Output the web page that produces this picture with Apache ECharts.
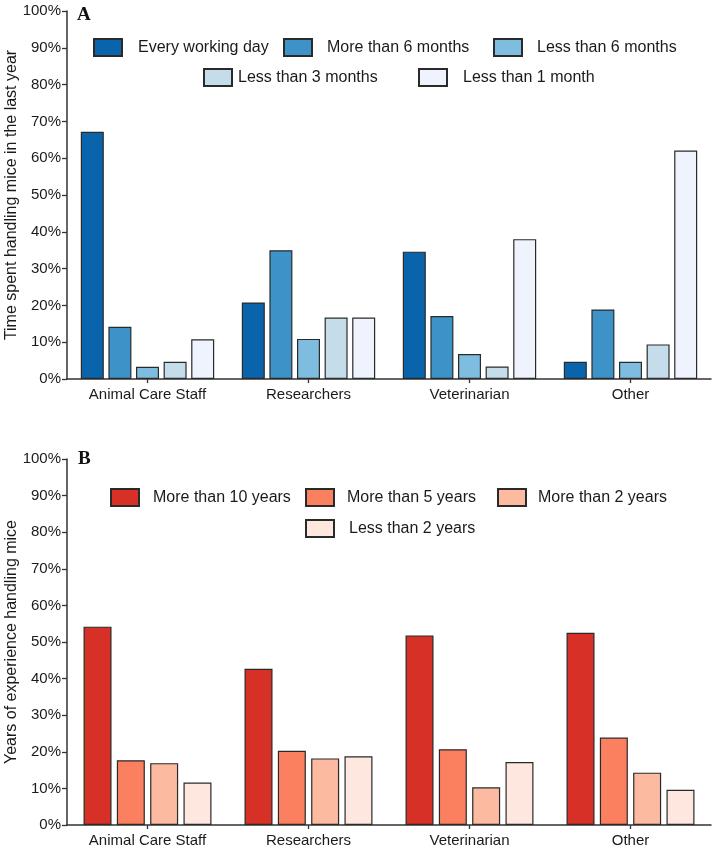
<!DOCTYPE html>
<html>
<head>
<meta charset="utf-8">
<script src="https://cdn.jsdelivr.net/npm/echarts@6/dist/echarts.min.js"></script>
<style>
html,body{margin:0;padding:0;background:#fff;}
#chart{width:713px;height:848px;}
</style>
</head>
<body>
<div id="chart"></div>
<script>
// ---- data ----
var categories = ['Animal Care Staff', 'Researchers', 'Veterinarian', 'Other'];

var freqNames = ['Every working day', 'More than 6 months', 'Less than 6 months', 'Less than 3 months', 'Less than 1 month'];
var everyWorkingDay = [67.2, 20.8, 34.6, 4.7];
var moreThan6Months = [14.2, 35.0, 17.1, 18.9];
var lessThan6Months = [3.3, 10.9, 6.8, 4.7];
var lessThan3Months = [4.7, 16.7, 3.4, 9.4];
var lessThan1Month = [10.8, 16.7, 38.0, 62.1];

var expNames = ['More than 10 years', 'More than 5 years', 'More than 2 years', 'Less than 2 years'];
var moreThan10Years = [54.2, 42.7, 51.8, 52.5];
var moreThan5Years = [17.7, 20.3, 20.7, 23.9];
var moreThan2Years = [16.9, 18.2, 10.3, 14.3];
var lessThan2Years = [11.6, 18.8, 17.2, 9.6];

var yTitleA = 'Time spent handling mice in the last year';
var yTitleB = 'Years of experience handling mice';

// ---- styles ----
var blues = ['#0a64ac', '#3d93c8', '#7ebce0', '#c5dcea', '#eef3fd'];
var reds = ['#d63027', '#fb8060', '#fcbaa0', '#fee7df'];
var FONT = "'Liberation Sans', Arial, Helvetica, sans-serif";
var AXIS = '#333';
var TXT = '#1a1a1a';

var chart = echarts.init(document.getElementById('chart'));

function yAxis(gridIndex, name) {
  return {
    type: 'value', gridIndex: gridIndex, min: 0, max: 100, interval: 10,
    name: name, nameLocation: 'middle', nameGap: 47, nameMoveOverlap: false,
    nameTextStyle: { fontFamily: FONT, fontSize: 16, color: TXT },
    axisLine: { show: true, lineStyle: { color: AXIS, width: 1.5 } },
    axisTick: { show: true, length: 5, lineStyle: { color: AXIS, width: 1.3 } },
    axisLabel: { formatter: '{value}%', fontFamily: FONT, fontSize: 15, color: TXT, margin: 6 },
    splitLine: { show: false }
  };
}
function xAxis(gridIndex) {
  return {
    type: 'category', gridIndex: gridIndex, data: categories,
    axisLine: { show: true, lineStyle: { color: AXIS, width: 1.5 } },
    axisTick: { show: true, alignWithLabel: true, length: 4, lineStyle: { color: AXIS, width: 1.3 } },
    axisLabel: { fontFamily: FONT, fontSize: 15, color: TXT, margin: 8 },
    splitLine: { show: false }
  };
}

var valuesA = [everyWorkingDay, moreThan6Months, lessThan6Months, lessThan3Months, lessThan1Month];
var valuesB = [moreThan10Years, moreThan5Years, moreThan2Years, lessThan2Years];

var series = [];
freqNames.forEach(function (n, i) {
  series.push({
    name: n, type: 'bar', xAxisIndex: 0, yAxisIndex: 0, data: valuesA[i],
    barWidth: 23, barGap: '20%',
    itemStyle: { color: blues[i], borderColor: '#2a2a2a', borderWidth: 1.2 }
  });
});
expNames.forEach(function (n, i) {
  series.push({
    name: n, type: 'bar', xAxisIndex: 1, yAxisIndex: 1, data: valuesB[i],
    barWidth: 28, barGap: '19%',
    itemStyle: { color: reds[i], borderColor: '#2a2a2a', borderWidth: 1.2 }
  });
});

// legend placement: [name, iconLeft, iconTop, textGap]
var legendPlaces = [
  [freqNames[0], 93, 38, 16],
  [freqNames[1], 283, 38, 15],
  [freqNames[2], 493, 38, 15],
  [freqNames[3], 203, 68, 6],
  [freqNames[4], 418, 68, 16],
  [expNames[0], 110, 488, 14],
  [expNames[1], 305, 488, 13],
  [expNames[2], 497, 488, 12],
  [expNames[3], 305, 519, 15]
];
var legends = legendPlaces.map(function (p) {
  return {
    data: [p[0]], left: p[1], top: p[2], padding: 0,
    itemWidth: 28, itemHeight: 17, icon: 'rect', selectedMode: false,
    textStyle: { fontFamily: FONT, fontSize: 16, color: TXT, padding: [0, 0, 0, p[3] - 5] }
  };
});

chart.setOption({
  animation: false,
  backgroundColor: '#fff',
  grid: [
    { left: 67, right: 2, top: 11, height: 368, containLabel: false, outerBoundsMode: 'none' },
    { left: 67, right: 2, top: 459, height: 366, containLabel: false, outerBoundsMode: 'none' }
  ],
  xAxis: [xAxis(0), xAxis(1)],
  yAxis: [yAxis(0, yTitleA), yAxis(1, yTitleB)],
  legend: legends,
  graphic: [
    { type: 'text', left: 77, top: 6, style: { text: 'A', font: "bold 19px 'Liberation Serif', 'Times New Roman', serif", fill: '#111' } },
    { type: 'text', left: 78, top: 450, style: { text: 'B', font: "bold 19px 'Liberation Serif', 'Times New Roman', serif", fill: '#111' } }
  ],
  series: series
});
</script>
</body>
</html>
